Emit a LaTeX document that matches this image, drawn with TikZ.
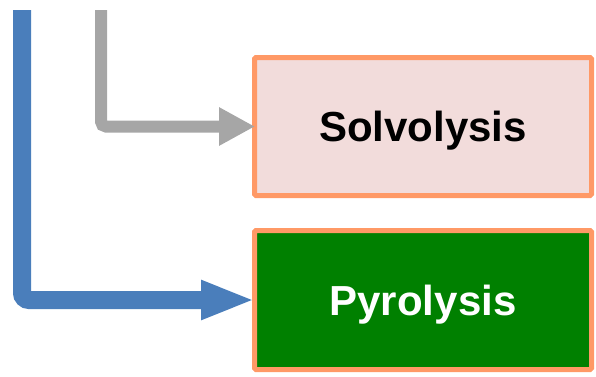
\documentclass[tikz,border=0pt]{standalone}
\usepackage{fontspec}
\setmainfont{Liberation Sans}
\usetikzlibrary{arrows.meta}
\definecolor{boxedge}{RGB}{255,153,102}
\definecolor{solvfill}{RGB}{242,220,219}
\definecolor{pyrofill}{RGB}{0,128,0}
\definecolor{flowblue}{RGB}{74,126,187}
\definecolor{flowgray}{RGB}{166,166,166}
\tikzset{
  procbox/.style={draw=boxedge, line width=5pt, rounded corners=1.5pt,
    minimum width=337pt, minimum height=138pt, inner sep=0pt,
    text height=30pt, text depth=0pt,
    font=\fontsize{42}{50}\selectfont\bfseries},
  bluearrow/.style={draw=flowblue, line width=18pt, rounded corners=7pt,
    -{Triangle[length=54pt,width=36pt]}},
  grayarrow/.style={draw=flowgray, line width=12pt, rounded corners=5pt,
    -{Triangle[length=36pt,width=36pt]}}
}
\begin{document}
\begin{tikzpicture}[x=1pt,y=-1pt]
\useasboundingbox (0,0) rectangle (596,376);
\node[procbox, fill=solvfill] (solv) at (423,126.5) {Solvolysis};
\node[procbox, fill=pyrofill, text=white, minimum height=139pt] (pyro) at (423,300) {Pyrolysis};
\coordinate (btop) at (22,10);
\coordinate (gtop) at (101,10);
\draw[bluearrow] (btop) |- ([xshift=3pt]pyro.west);
\draw[grayarrow] (gtop) |- ([xshift=3pt]solv.west);
\end{tikzpicture}
\end{document}
